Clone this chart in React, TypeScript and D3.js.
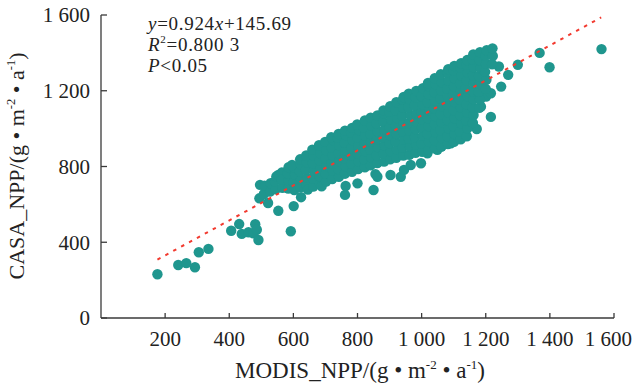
import React from "react";
import * as d3 from "d3";

// ---- data (MODIS_NPP, CASA_NPP) ----
const lowTail: [number, number][] = [
  [176, 231], [241, 280], [266, 290], [293, 268], [305, 347], [335, 365],
  [406, 461], [431, 496], [439, 444], [460, 453], [475, 447], [481, 495],
  [486, 466], [491, 412],
];
const outliers: [number, number][] = [
  [496, 703], [494, 632], [521, 607], [553, 566], [592, 458], [601, 591],
  [624, 638], [761, 650], [763, 697], [800, 711], [850, 676], [856, 760],
  [862, 746], [903, 755], [935, 746], [945, 782], [966, 808], [998, 817],
  [1018, 870], [1049, 888], [1062, 905], [1091, 923], [1128, 958],
  [1172, 998], [1185, 1116], [1201, 1169], [1216, 1062], [1216, 1187],
  [1241, 1328], [1248, 1222], [1270, 1284], [1300, 1337], [1368, 1400],
  [1399, 1324], [1561, 1420],
];
const core500: [number, number][] = [
  [508, 655], [510, 698], [527, 668], [529, 712], [545, 679], [543, 722], [547, 748],
  [553, 755], [564, 768], [566, 688], [564, 730], [584, 684], [586, 726], [582, 764],
  [585, 796], [603, 676], [601, 716], [605, 758], [600, 797], [596, 808], [622, 690],
  [624, 732], [620, 774], [623, 812], [621, 838], [641, 700], [643, 741], [639, 783],
  [642, 822], [640, 858], [645, 678], [662, 694], [660, 737], [664, 779], [661, 818],
  [663, 857], [659, 889], [683, 708], [681, 749], [685, 790], [682, 831], [684, 870],
  [680, 912], [688, 695],
];
const core700: [number, number][] = [
  [702, 721], [700, 762], [704, 803], [701, 844], [703, 886], [699, 930],
  [721, 734], [723, 777], [719, 818], [722, 859], [720, 899], [724, 940], [718, 955],
  [742, 745], [740, 787], [744, 828], [741, 869], [743, 910], [739, 951], [741, 972],
  [761, 762], [763, 801], [759, 843], [762, 884], [760, 925], [764, 966], [761, 989],
  [783, 772], [781, 815], [785, 857], [782, 898], [784, 940], [780, 980], [783, 1004],
  [802, 786], [804, 826], [800, 868], [803, 910], [801, 951], [805, 993], [799, 1022],
  [823, 796], [821, 838], [825, 880], [822, 922], [824, 963], [820, 1004], [823, 1043],
  [841, 806], [843, 848], [839, 890], [842, 931], [840, 972], [844, 1015], [841, 1058],
  [862, 818], [860, 860], [864, 902], [861, 944], [863, 986], [859, 1028], [862, 1070],
  [883, 826], [881, 868], [885, 910], [882, 952], [884, 994], [880, 1036], [883, 1078], [881, 1096],
];
const core900: [number, number][] = [
  [902, 838], [904, 880], [900, 922], [903, 964], [901, 1006], [905, 1048], [899, 1090], [902, 1118],
  [921, 846], [923, 888], [919, 930], [922, 972], [920, 1014], [924, 1056], [918, 1098], [921, 1140],
  [943, 858], [941, 900], [945, 942], [942, 984], [944, 1026], [940, 1068], [943, 1110], [941, 1152], [944, 1167],
  [962, 862], [964, 904], [960, 946], [963, 988], [961, 1030], [965, 1072], [959, 1114], [962, 1156], [960, 1184],
  [981, 872], [983, 914], [979, 956], [982, 998], [980, 1040], [984, 1082], [978, 1124], [981, 1166], [983, 1199],
  [1002, 878], [1000, 920], [1004, 962], [1001, 1004], [1003, 1046], [999, 1088], [1002, 1130], [1000, 1172], [1004, 1214],
  [1021, 888], [1023, 930], [1019, 972], [1022, 1014], [1020, 1056], [1024, 1098], [1018, 1140], [1021, 1182], [1023, 1224], [1020, 1241],
  [1042, 896], [1040, 940], [1044, 982], [1041, 1024], [1043, 1066], [1039, 1108], [1042, 1150], [1040, 1192], [1044, 1234], [1041, 1266],
  [1061, 906], [1063, 950], [1059, 992], [1062, 1034], [1060, 1076], [1064, 1118], [1058, 1160], [1061, 1202], [1063, 1244], [1060, 1287],
  [1082, 918], [1080, 960], [1084, 1002], [1081, 1044], [1083, 1086], [1079, 1128], [1082, 1170], [1080, 1212], [1084, 1254], [1081, 1296], [1083, 1314],
];
const core1100: [number, number][] = [
  [1101, 930], [1103, 972], [1099, 1014], [1102, 1056], [1100, 1098], [1104, 1140], [1098, 1182], [1101, 1224], [1103, 1266], [1100, 1308], [1102, 1331],
  [1122, 944], [1120, 986], [1124, 1028], [1121, 1070], [1123, 1112], [1119, 1154], [1122, 1196], [1120, 1238], [1124, 1280], [1121, 1322], [1123, 1346],
  [1141, 960], [1143, 1002], [1139, 1044], [1142, 1086], [1140, 1128], [1144, 1170], [1138, 1212], [1141, 1254], [1143, 1296], [1140, 1338], [1142, 1362],
  [1160, 1030], [1162, 1072], [1158, 1114], [1161, 1156], [1159, 1198], [1163, 1240], [1160, 1282], [1162, 1324], [1158, 1366], [1161, 1392],
  [1180, 1110], [1182, 1152], [1178, 1194], [1181, 1236], [1179, 1278], [1183, 1320], [1180, 1362], [1182, 1404],
  [1200, 1210], [1202, 1258], [1198, 1300], [1201, 1342], [1199, 1384], [1203, 1414],
  [1220, 1340], [1222, 1384], [1221, 1424],
];
const xTicks = [200, 400, 600, 800, 1000, 1200, 1400, 1600];
const yTicks = [0, 400, 800, 1200, 1600];
const fitSlope = 0.924;
const fitIntercept = 145.69;
const fitRange = [176, 1560];

const W = 636;
const H = 385;
const FONT = "'Liberation Serif', 'Times New Roman', 'DejaVu Serif', serif";
const TEAL = "#1f968e";
const AXIS = "#3a3a3a";

const fmt = (v: number) => {
  const s = String(v);
  return s.length > 3 ? s.slice(0, s.length - 3) + " " + s.slice(-3) : s;
};

export default function App() {
  const x = d3.scaleLinear().domain([0, 1600]).range([101, 614]);
  const y = d3.scaleLinear().domain([0, 1600]).range([318, 15]);
  const all = [...lowTail, ...outliers, ...core500, ...core700, ...core900, ...core1100];
  const line = d3
    .line<number>()
    .x((d) => x(d))
    .y((d) => y(fitSlope * d + fitIntercept));

  return (
    <svg
      width={W}
      height={H}
      style={{ position: "absolute", left: 0, top: 0, background: "#fff" }}
      fontFamily={FONT}
    >
      <rect width={W} height={H} fill="#fff" />
      {/* points */}
      <g fill={TEAL}>
        {all.map((d, i) => (
          <circle key={i} cx={x(d[0])} cy={y(d[1])} r={5.2} />
        ))}
      </g>
      {/* fit line */}
      <path
        d={line(fitRange) || ""}
        fill="none"
        stroke="#f23a2f"
        strokeWidth={2}
        strokeDasharray="3.5 5.5"
      />
      {/* axes */}
      <g stroke={AXIS} strokeWidth={1.3} fill="none">
        <line x1={x(0)} x2={x(0)} y1={y(1600)} y2={y(0)} />
        <line x1={x(0)} x2={x(1600)} y1={y(0)} y2={y(0)} />
        {yTicks.map((t) => (
          <line key={"yt" + t} x1={x(0)} x2={x(0) + 6} y1={y(t)} y2={y(t)} />
        ))}
        {xTicks.map((t) => (
          <line key={"xt" + t} x1={x(t)} x2={x(t)} y1={y(0)} y2={y(0) - 5} />
        ))}
      </g>
      <g fill="#222" fontSize={21}>
        {yTicks.map((t) => (
          <text key={"yl" + t} x={90} y={y(t)} dy="0.35em" textAnchor="end">
            {fmt(t)}
          </text>
        ))}
        {xTicks.map((t) => (
          <text
            key={"xl" + t}
            x={t === 1600 ? 632 : x(t)}
            y={346}
            textAnchor={t === 1600 ? "end" : "middle"}
          >
            {fmt(t)}
          </text>
        ))}
      </g>
      {/* axis titles */}
      <text x={360} y={378} textAnchor="middle" fontSize={23} fill="#222">
        MODIS_NPP/(g • m
        <tspan fontSize={13} dy={-9}>-2</tspan>
        <tspan dy={9}> • a</tspan>
        <tspan fontSize={13} dy={-9}>-1</tspan>
        <tspan dy={9}>)</tspan>
      </text>
      <text
        transform="translate(24,166) rotate(-90)"
        textAnchor="middle"
        fontSize={22}
        fill="#222"
      >
        CASA_NPP/(g • m
        <tspan fontSize={12.5} dy={-9}>-2</tspan>
        <tspan dy={9}> • a</tspan>
        <tspan fontSize={12.5} dy={-9}>-1</tspan>
        <tspan dy={9}>)</tspan>
      </text>
      {/* annotation */}
      <g fill="#222" fontSize={19} letterSpacing={0.7}>
        <text x={148} y={30}>
          <tspan fontStyle="italic">y</tspan>=0.924<tspan fontStyle="italic">x</tspan>+145.69
        </text>
        <text x={148} y={51}>
          <tspan fontStyle="italic">R</tspan>
          <tspan fontSize={11} dy={-8}>2</tspan>
          <tspan dy={8}>=0.800 3</tspan>
        </text>
        <text x={148} y={72}>
          <tspan fontStyle="italic">P</tspan>&lt;0.05
        </text>
      </g>
    </svg>
  );
}
